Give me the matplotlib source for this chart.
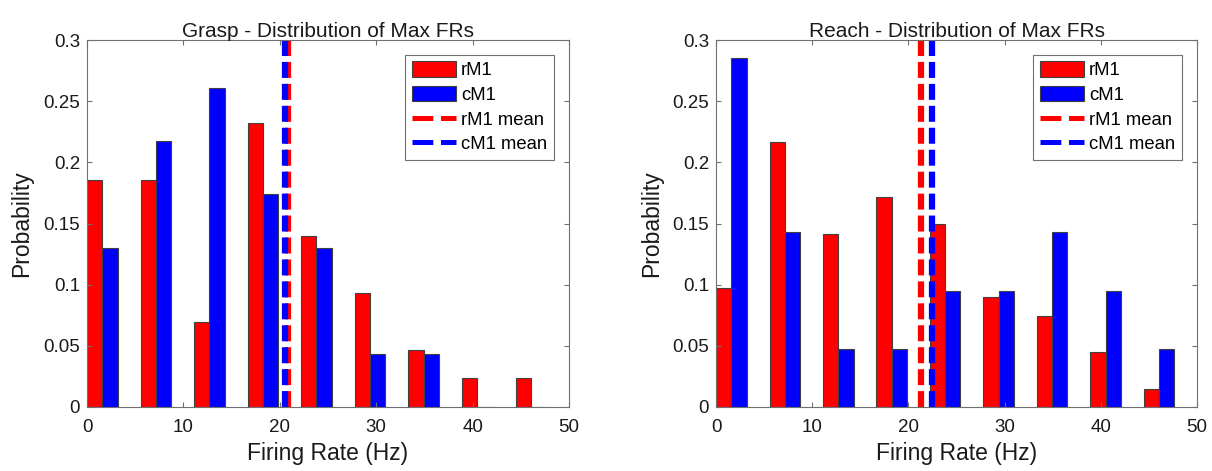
import numpy as np
import matplotlib
matplotlib.use('Agg')
import matplotlib.pyplot as plt
from matplotlib.patches import Patch
from matplotlib.lines import Line2D

# bin centres of the 9 firing-rate bins (Hz)
bin_centers = [1.59, 7.16, 12.7, 18.25, 23.8, 29.37, 34.92, 40.49, 46.05]

# Grasp - probabilities per bin
grasp_rm1 = [0.186, 0.186, 0.0698, 0.2326, 0.1395, 0.093, 0.0465, 0.0233, 0.0233]
grasp_cm1 = [0.1304, 0.2174, 0.2609, 0.1739, 0.1304, 0.0435, 0.0435, 0.0, 0.0]
grasp_means = [20.88, 20.54]   # rM1, cM1

# Reach - probabilities per bin
reach_rm1 = [0.097, 0.2164, 0.1418, 0.1716, 0.1493, 0.0896, 0.0746, 0.0448, 0.0149]
reach_cm1 = [0.2857, 0.1429, 0.0476, 0.0476, 0.0952, 0.0952, 0.1429, 0.0952, 0.0476]
reach_means = [21.35, 22.48]

ytick_labels = ['0', '0.05', '0.1', '0.15', '0.2', '0.25', '0.3']

plt.rcParams['font.family'] = ['Liberation Sans', 'DejaVu Sans']
plt.rcParams['lines.scale_dashes'] = False

bar_w = 1.59
edge = '#404040'
axcol = '#707070'
dash = (0, (11.5, 4.3))


def dist_panel(ax, title, rm1, cm1, means):
    x = np.array(bin_centers)
    ax.bar(x - bar_w / 2, rm1, bar_w, color='#ff0000', edgecolor=edge, linewidth=0.8)
    ax.bar(x + bar_w / 2, cm1, bar_w, color='#0000ff', edgecolor=edge, linewidth=0.8)
    ax.plot([means[0], means[0]], [0.3, 0], color='#ff0000', lw=4.5, ls=dash)
    ax.plot([means[1], means[1]], [0.3, 0], color='#0000ff', lw=4.5, ls=dash)

    ax.set_xlim(0, 50)
    ax.set_ylim(0, 0.3)
    ax.set_xticks(np.arange(0, 51, 10))
    ax.set_yticks(np.arange(0, 0.301, 0.05))
    ax.set_yticklabels(ytick_labels)
    ax.tick_params(direction='in', top=True, right=True, length=3.6,
                   width=0.8, color=axcol, labelsize=13.5, labelcolor='#1a1a1a')
    ax.tick_params(axis='x', pad=9)
    ax.tick_params(axis='y', pad=5)
    for s in ax.spines.values():
        s.set_color(axcol)
        s.set_linewidth(0.8)

    ax.set_title(title, fontsize=15, pad=2.5, color='#1a1a1a')
    ax.set_xlabel('Firing Rate (Hz)', fontsize=16.5, labelpad=4, color='#1a1a1a')
    ax.set_ylabel('Probability', fontsize=16.5, labelpad=7, color='#1a1a1a')

    handles = [
        Patch(facecolor='#ff0000', edgecolor=edge, linewidth=0.8),
        Patch(facecolor='#0000ff', edgecolor=edge, linewidth=0.8),
        Line2D([], [], color='#ff0000', lw=3.6, ls=(0, (15, 5.5))),
        Line2D([], [], color='#0000ff', lw=3.6, ls=(0, (15, 5.5))),
    ]
    leg = ax.legend(handles, ['rM1', 'cM1', 'rM1 mean', 'cM1 mean'],
                    loc='upper right', bbox_to_anchor=(0.968, 0.96),
                    fontsize=13.3, handlelength=2.43, handleheight=0.92,
                    handletextpad=0.25, labelspacing=0.35, borderpad=0.35,
                    borderaxespad=0, fancybox=False, framealpha=1)
    leg.get_frame().set_edgecolor(axcol)
    leg.get_frame().set_linewidth(0.8)


fig = plt.figure(figsize=(12.12, 4.71), dpi=100)
ax1 = fig.add_axes([0.0718, 0.1359, 0.3977, 0.779])
ax2 = fig.add_axes([0.5908, 0.1359, 0.3969, 0.779])

dist_panel(ax1, 'Grasp - Distribution of Max FRs', grasp_rm1, grasp_cm1, grasp_means)
dist_panel(ax2, 'Reach - Distribution of Max FRs', reach_rm1, reach_cm1, reach_means)

fig.savefig('out.png', dpi=100)
